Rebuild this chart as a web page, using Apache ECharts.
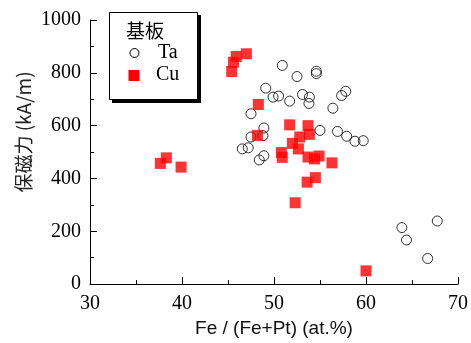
<!DOCTYPE html>
<html>
<head>
<meta charset="utf-8">
<script src="https://cdn.jsdelivr.net/npm/echarts@6/dist/echarts.min.js"></script>
<style>
  html, body { margin: 0; padding: 0; background: #fff; }
  #chart { width: 471px; height: 343px; }
</style>
</head>
<body>
<div id="chart"></div>
<script>
// 基板 Ta : [Fe/(Fe+Pt) at.%, 保磁力 kA/m]
var taData = [
    [50.9, 828], [52.5, 786], [54.6, 806], [54.6, 797], [49.1, 742],
    [49.9, 708], [50.5, 712], [51.7, 693], [53.1, 718], [53.85, 708],
    [53.8, 684], [57.8, 730], [57.35, 714], [56.4, 666], [47.5, 645],
    [48.9, 591], [48.8, 562], [47.5, 557], [55.0, 582], [56.9, 578],
    [57.9, 560], [58.8, 541], [59.7, 543], [46.55, 512], [47.2, 516],
    [48.9, 486], [48.4, 470], [63.9, 214], [64.4, 167], [67.75, 239],
    [66.7, 97]
];
// 基板 Cu
var cuData = [
    [45.4, 805], [45.6, 840], [45.9, 862], [47.0, 872],
    [48.3, 680], [48.2, 563],
    [51.7, 603], [53.7, 600], [53.85, 567], [52.8, 557], [52.0, 533],
    [52.65, 512], [50.8, 498], [50.9, 480], [53.7, 481], [54.4, 474],
    [54.9, 485], [56.3, 459],
    [53.6, 386], [54.5, 403], [52.3, 308], [60.0, 50],
    [37.65, 457], [38.3, 478], [39.9, 443]
];
var legendTitle = '基板';
var legendNames = ['Ta', 'Cu'];
var yTitle = '保磁力 (kA/m)';
var xTitle = 'Fe / (Fe+Pt) (at.%)';

var chart = echarts.init(document.getElementById('chart'));

var serif = 'Liberation Serif';

var option = {
    backgroundColor: '#fff',
    animation: false,
    grid: {
        left: 90,
        right: 12,
        top: 20,
        bottom: 58
    },
    xAxis: {
        type: 'value',
        min: 30,
        max: 70,
        interval: 10,
        name: xTitle,
        nameLocation: 'middle',
        nameGap: 33,
        nameTextStyle: {
            fontFamily: 'Liberation Sans',
            fontSize: 19,
            color: '#111'
        },
        axisLine: { onZero: false, lineStyle: { color: '#000', width: 1 } },
        axisTick: { inside: true, length: 7, lineStyle: { color: '#000' } },
        minorTick: { show: true, splitNumber: 2, length: 4, lineStyle: { color: '#000' } },
        splitLine: { show: false },
        axisLabel: {
            margin: 10,
            fontFamily: serif,
            fontSize: 20,
            color: '#000'
        }
    },
    yAxis: {
        type: 'value',
        min: 0,
        max: 1000,
        interval: 200,
        axisLine: { lineStyle: { color: '#000', width: 1 } },
        axisTick: { inside: true, length: 7, lineStyle: { color: '#000' } },
        minorTick: { show: true, splitNumber: 2, length: 4, lineStyle: { color: '#000' } },
        splitLine: { show: false },
        axisLabel: {
            margin: 9,
            fontFamily: serif,
            fontSize: 20,
            color: '#000',
            formatter: function(v) { return String(v); }
        }
    },
    series: [{
            name: legendNames[0],
            type: 'scatter',
            symbol: 'circle',
            symbolSize: 10,
            itemStyle: {
                color: 'rgba(0,0,0,0)',
                borderColor: '#000',
                borderWidth: 1
            },
            data: taData
        },
        {
            name: legendNames[1],
            type: 'scatter',
            symbol: 'rect',
            symbolSize: 11,
            itemStyle: {
                color: '#ff0000'
            },
            data: cuData
        }
    ],
    graphic: [
        // y axis title (sits a bit above centre in the original)
        { type: 'text', x: 24, y: 132, rotation: Math.PI / 2,
          style: { text: yTitle, fontFamily: 'Noto Sans CJK JP', fontSize: 19, fill: '#222', align: 'center', verticalAlign: 'middle' } },
        // legend shadow + box
        { type: 'rect', left: 112, top: 15, shape: { width: 89, height: 88 }, style: { fill: '#000' }, z: 10 },
        { type: 'rect', left: 109, top: 12, shape: { width: 88, height: 87 }, style: { fill: '#fff', stroke: '#000', lineWidth: 1 }, z: 11 },
        { type: 'text', left: 126, top: 21, style: { text: legendTitle, fontFamily: 'Noto Sans CJK JP', fontSize: 19, fill: '#000' }, z: 12 },
        { type: 'circle', shape: { cx: 134.5, cy: 53, r: 4.5 }, style: { fill: 'none', stroke: '#000', lineWidth: 1 }, z: 12 },
        { type: 'text', left: 158, top: 43, style: { text: legendNames[0], fontFamily: serif, fontSize: 20, fill: '#000' }, z: 12 },
        { type: 'rect', shape: { x: 128.5, y: 70, width: 11, height: 11 }, style: { fill: '#ff0000' }, z: 12 },
        { type: 'text', left: 156, top: 65, style: { text: legendNames[1], fontFamily: serif, fontSize: 20, fill: '#000' }, z: 12 }
    ]
};

chart.setOption(option);

window.addEventListener('resize', function() {
    chart.resize();
});
</script>
</body>
</html>
